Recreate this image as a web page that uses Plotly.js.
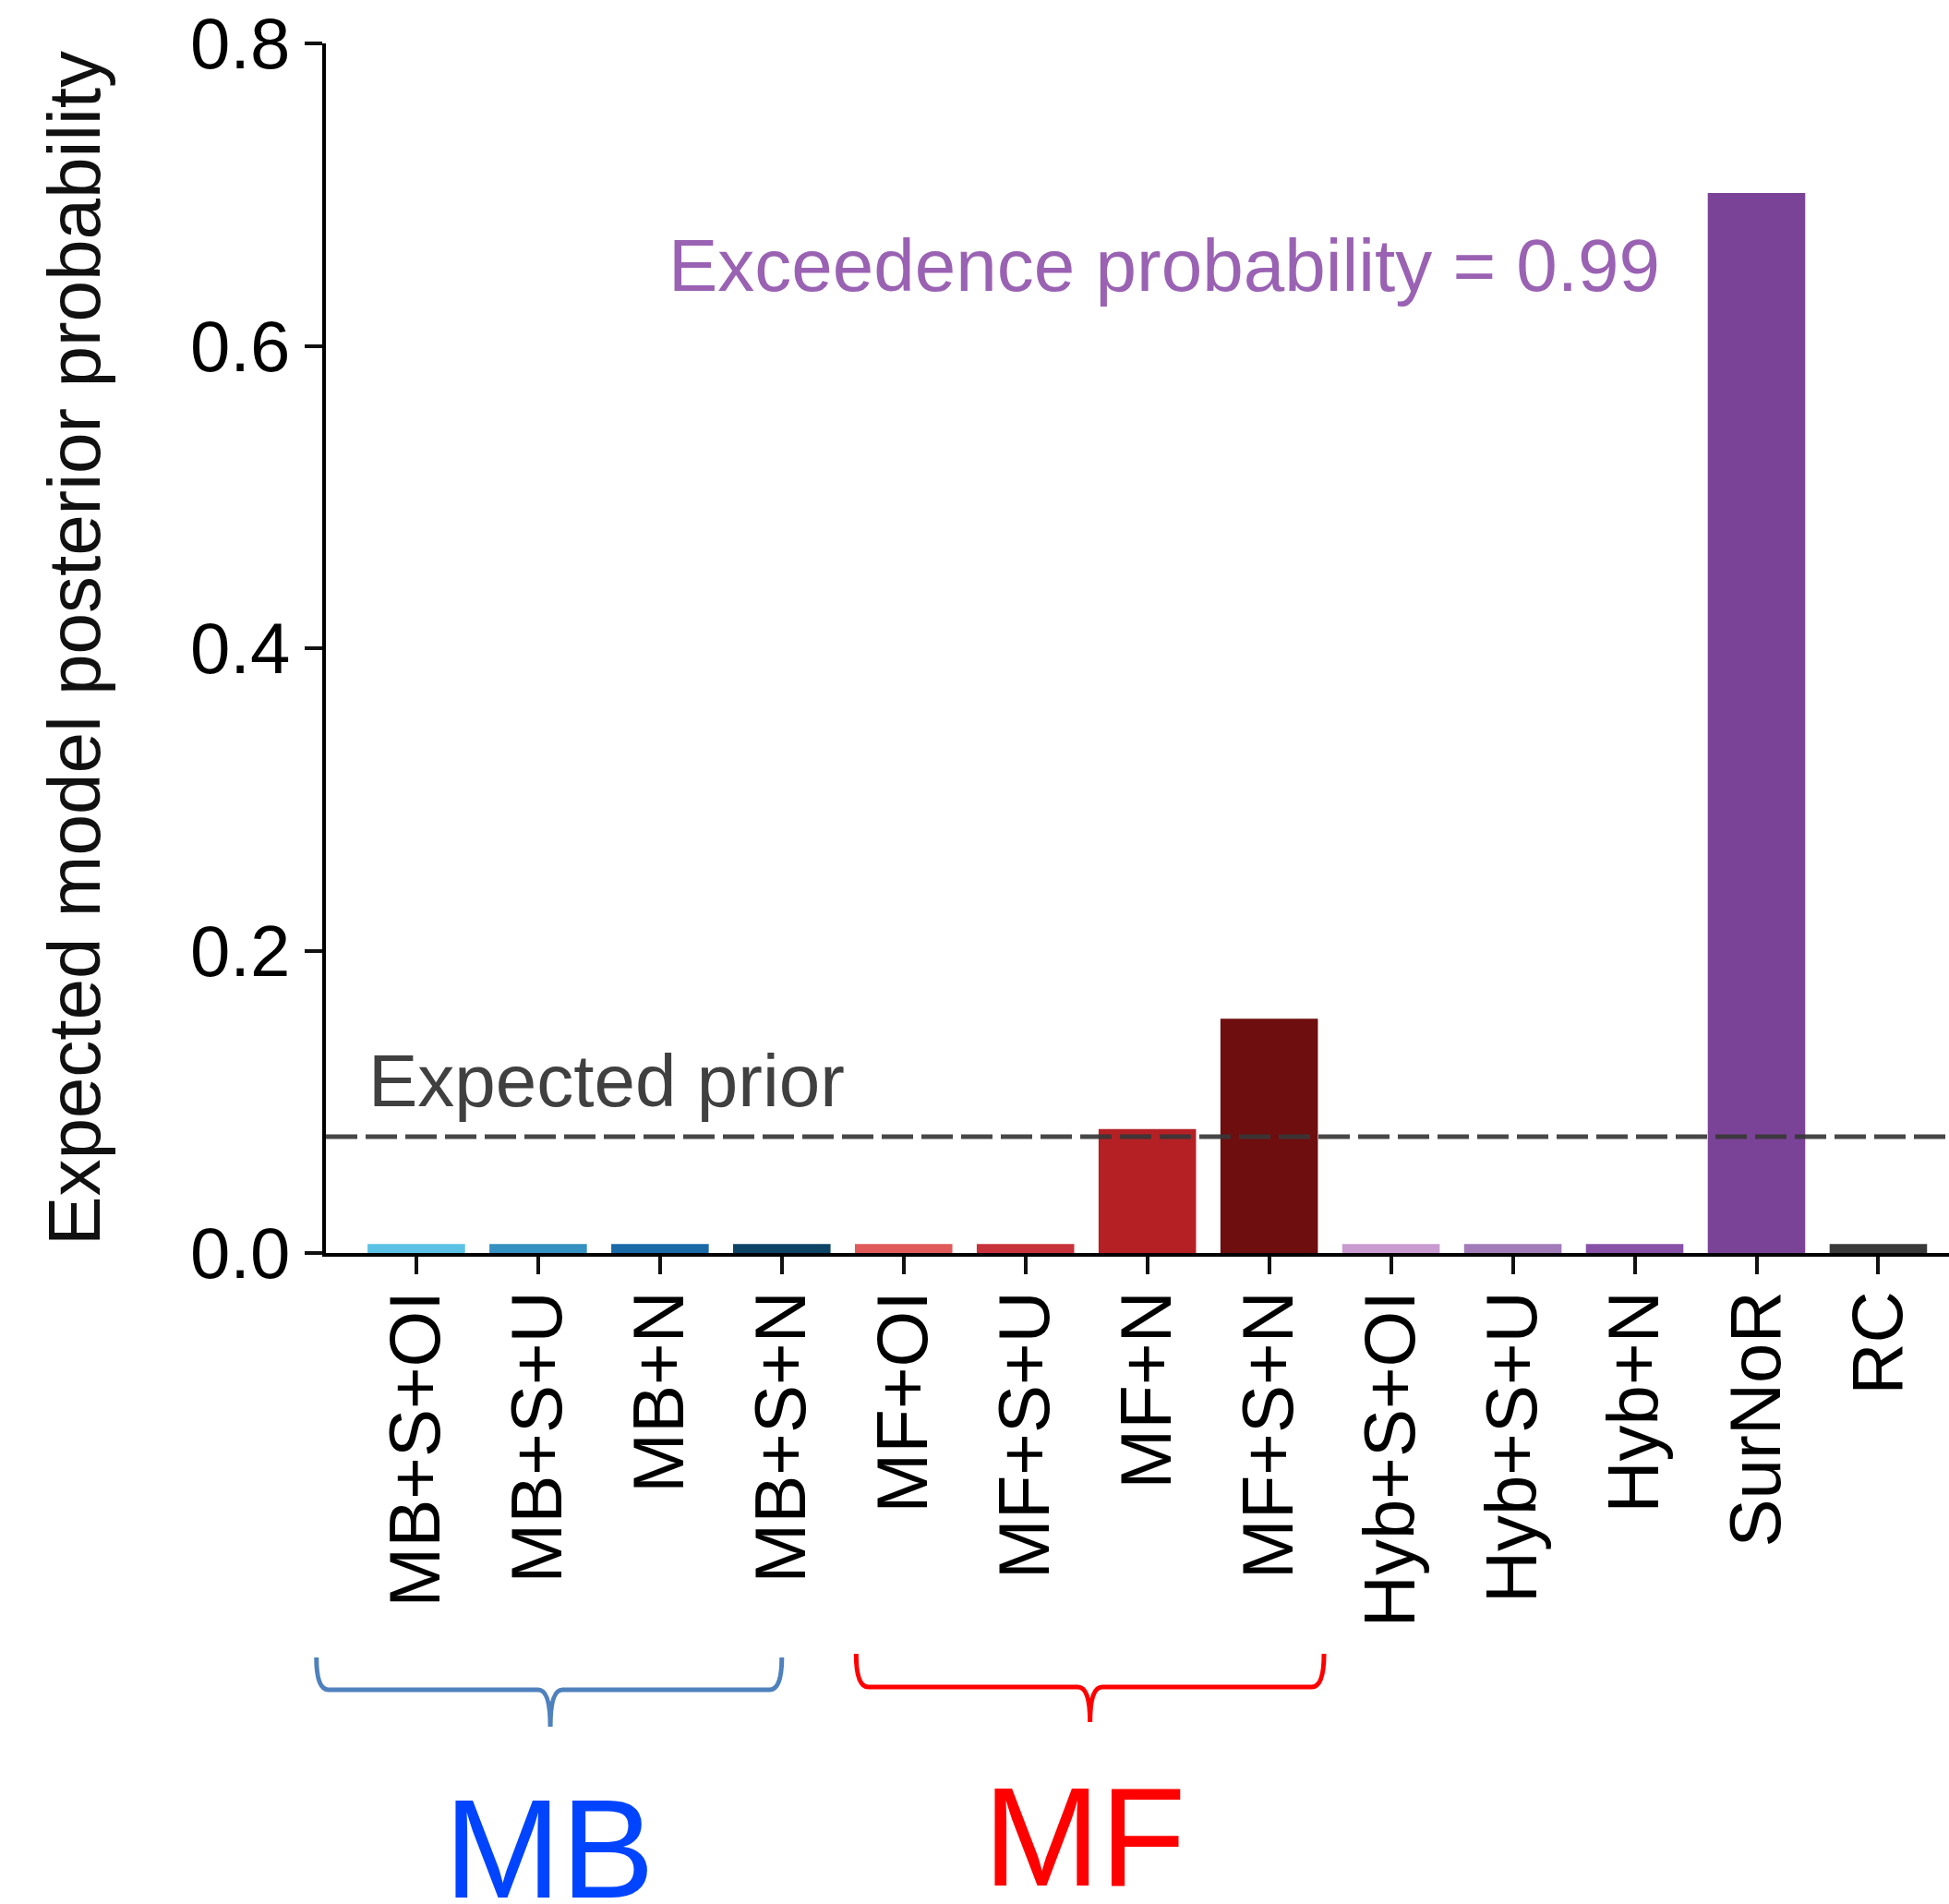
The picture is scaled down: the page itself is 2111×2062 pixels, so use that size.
<!DOCTYPE html>
<html>
<head>
<meta charset="utf-8">
<script src="https://cdn.plot.ly/plotly-3.0.1.min.js"></script>
<style>html,body{margin:0;padding:0;background:#fff;}#chart{width:2111px;height:2062px;}</style>
</head>
<body>
<div id="chart"></div>
<script>
// ---- data ----
const models = ["MB+S+OI","MB+S+U","MB+N","MB+S+N","MF+OI","MF+S+U","MF+N","MF+S+N","Hyb+S+OI","Hyb+S+U","Hyb+N","SurNoR","RC"];
const posterior = [0.006,0.006,0.006,0.006,0.006,0.006,0.082,0.155,0.006,0.006,0.006,0.701,0.006];
const barColors = ["#5bc2e6","#3591c1","#1a6aa8","#0d4466","#e05a5a","#c8323a","#b52025","#6e0e0f","#c99bd1","#a27bb9","#8851a8","#7b4397","#3a3a3a"];
const expectedPrior = [1/13];
const yTicks = [0,0.2,0.4,0.6,0.8];
const groupNames = ["MB","MF"];
const groupStart = [-0.82, 3.61];
const groupEnd = [3.0, 7.45];
const groupTip = [1.10, 5.53];
const groupColors = ["#4f81bd","#ff0000"];
const groupTextColors = ["#0044ff","#ff0000"];
const exceedenceText = "Exceedence probability = 0.99";

const FONT = "Liberation Sans, Arial, Helvetica, sans-serif";

const xRange = [-0.742, 12.58];
const plotH = 1310;
function pyBelow(px){ return -px/plotH; }            // px below x axis -> paper y
function catToPaper(c){ return (c - xRange[0]) / (xRange[1] - xRange[0]); }

function bracePath(x0, x1, xm, yt, yh, yp){
  const dx = 0.10 / (xRange[1] - xRange[0]);
  return `M ${x0},${yt} Q ${x0},${yh} ${x0+dx},${yh} L ${xm-dx},${yh} Q ${xm},${yh} ${xm},${yp} ` +
         `M ${xm},${yp} Q ${xm},${yh} ${xm+dx},${yh} L ${x1-dx},${yh} Q ${x1},${yh} ${x1},${yt}`;
}

const braceY = [[438,473,513],[434,470,508]];
const shapes = [{
  type:'line', xref:'paper', x0:0, x1:1, yref:'y', y0:expectedPrior[0], y1:expectedPrior[0],
  line:{color:'rgba(55,55,55,0.92)', width:5, dash:'34px,9px'}, layer:'above'
}];
for(let i=0;i<groupNames.length;i++){
  shapes.push({
    type:'path', xref:'paper', yref:'paper',
    path: bracePath(catToPaper(groupStart[i]), catToPaper(groupEnd[i]), catToPaper(groupTip[i]),
                    pyBelow(braceY[i][0]), pyBelow(braceY[i][1]), pyBelow(braceY[i][2])),
    line:{color:groupColors[i], width:5}, fillcolor:'rgba(0,0,0,0)'
  });
}

const groupTop = [588, 575];
const annotations = [
  {xref:'paper', yref:'paper', x:-0.1553, y:0.5, text:'Expected model posterior probability', textangle:-90,
   showarrow:false, xanchor:'center', yanchor:'middle', font:{family:FONT, size:80, color:'#111'}},
  {xref:'x', yref:'y', x:6.14, y:0.6534, text:exceedenceText, showarrow:false, xanchor:'center', yanchor:'middle',
   font:{family:FONT, size:80, color:'#9a62b3'}},
  {xref:'x', yref:'y', x:-0.41, y:0.1136, text:'Expected prior', showarrow:false, xanchor:'left', yanchor:'middle',
   font:{family:FONT, size:80, color:'#404040'}}
];
for(let i=0;i<groupNames.length;i++){
  annotations.push({xref:'x', yref:'paper', x:(groupStart[i]+groupEnd[i])/2 - (i===0?0.0:0.05), y:pyBelow(groupTop[i]-30), text:groupNames[i],
    showarrow:false, xanchor:'center', yanchor:'top', font:{family:FONT, size:152, color:groupTextColors[i]}});
}

const trace = {
  type:'bar', x:models, y:posterior, width:0.8,
  marker:{color:barColors, line:{width:0}},
  hoverinfo:'x+y'
};

const layout = {
  width:2111, height:2062,
  margin:{l:353, r:0, t:47, b:705, pad:0},
  paper_bgcolor:'#fff', plot_bgcolor:'#fff',
  showlegend:false,
  font:{family:FONT, color:'#000'},
  xaxis:{
    type:'category', range:xRange, automargin:false,
    showline:true, linecolor:'#000', linewidth:4,
    ticks:'outside', ticklen:19, tickwidth:4, tickcolor:'#111',
    tickangle:-90, tickfont:{family:FONT, size:78, color:'#000'}, ticklabelstandoff:-13,
    showgrid:false, zeroline:false, fixedrange:true
  },
  yaxis:{
    range:[0,0.8], automargin:false,
    tickvals:yTicks, tickformat:'.1f',
    showline:true, linecolor:'#000', linewidth:4,
    ticks:'outside', ticklen:19, tickwidth:4, tickcolor:'#111',
    tickfont:{family:FONT, size:78, color:'#000'},
    showgrid:false, zeroline:false, fixedrange:true
  },
  shapes:shapes,
  annotations:annotations
};

Plotly.newPlot('chart', [trace], layout, {displayModeBar:false, staticPlot:true});
</script>
</body>
</html>
